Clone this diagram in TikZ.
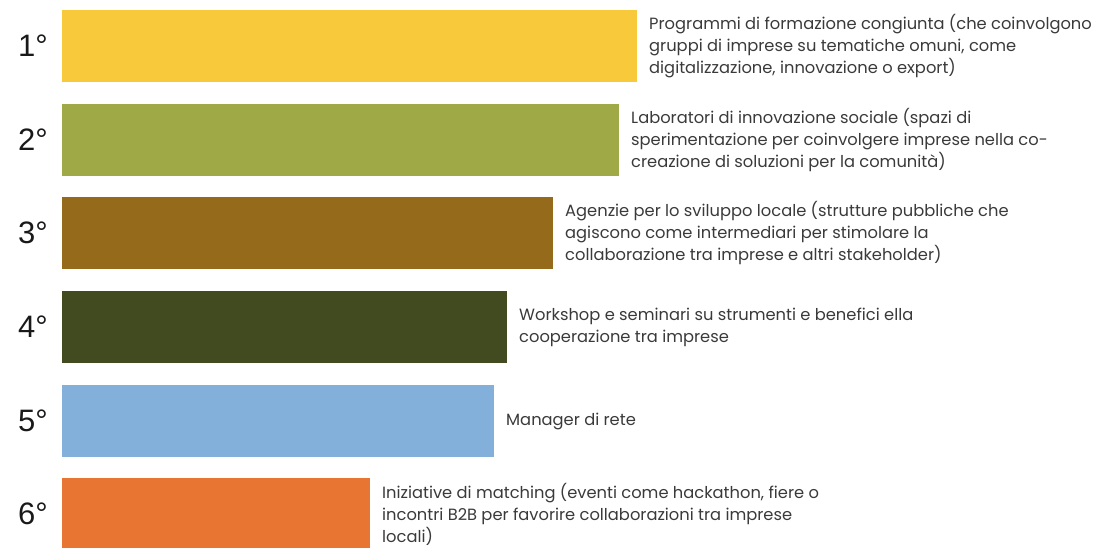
\documentclass[tikz,border=0pt]{standalone}
\usepackage{fontspec}
\setmainfont{Poppins}
\newfontfamily\rankfont{Liberation Sans}
\usetikzlibrary{positioning}
\definecolor{rankA}{HTML}{F7C93B}
\definecolor{rankB}{HTML}{9FA946}
\definecolor{rankC}{HTML}{956A1B}
\definecolor{rankD}{HTML}{424A20}
\definecolor{rankE}{HTML}{82B0DB}
\definecolor{rankF}{HTML}{E97532}
\definecolor{txtgray}{HTML}{3A3A3A}

\begin{document}
\begin{tikzpicture}[
  x=1pt, y=-1pt,
  node distance=12pt,
  bar/.style={rectangle, inner sep=0pt, outer sep=0pt, minimum height=72pt, anchor=north west},
  desc/.style={align=left, anchor=west, text=txtgray, inner sep=0pt, font=\fontsize{16.3}{22}\selectfont},
  rank/.style={inner sep=0pt, text=black!90, font=\rankfont\fontsize{31}{31}\selectfont}
]
\useasboundingbox (0,0) rectangle (1099,547);

\node[bar, fill=rankA, minimum width=575pt] (b1) at (62,10) {};
\node[bar, fill=rankB, minimum width=557pt] (b2) at (62,104) {};
\node[bar, fill=rankC, minimum width=491pt] (b3) at (62,197) {};
\node[bar, fill=rankD, minimum width=445pt] (b4) at (62,291) {};
\node[bar, fill=rankE, minimum width=432pt] (b5) at (62,385) {};
\node[bar, fill=rankF, minimum width=308pt] (b6) at (62,478) {};

\node[rank, left=14pt of b1] (n1) {1°};
\node[rank, left=14pt of b2] (n2) {2°};
\node[rank, left=14pt of b3] (n3) {3°};
\node[rank, left=14pt of b4] (n4) {4°};
\node[rank, left=14pt of b5] (n5) {5°};
\node[rank, left=14pt of b6] (n6) {6°};

\node[desc, right=of b1] (t1) {Programmi di formazione congiunta (che coinvolgono\\gruppi di imprese su tematiche omuni, come\\digitalizzazione, innovazione o export)};
\node[desc, right=of b2] (t2) {Laboratori di innovazione sociale (spazi di\\sperimentazione per coinvolgere imprese nella co-\\creazione di soluzioni per la comunità)};
\node[desc, right=of b3] (t3) {Agenzie per lo sviluppo locale (strutture pubbliche che\\agiscono come intermediari per stimolare la\\collaborazione tra imprese e altri stakeholder)};
\node[desc, right=of b4] (t4) {Workshop e seminari su strumenti e benefici ella\\cooperazione tra imprese};
\node[desc, right=of b5] (t5) {Manager di rete};
\node[desc, right=of b6] (t6) {Iniziative di matching (eventi come hackathon, fiere o\\incontri B2B per favorire collaborazioni tra imprese\\locali)};
\end{tikzpicture}
\end{document}
